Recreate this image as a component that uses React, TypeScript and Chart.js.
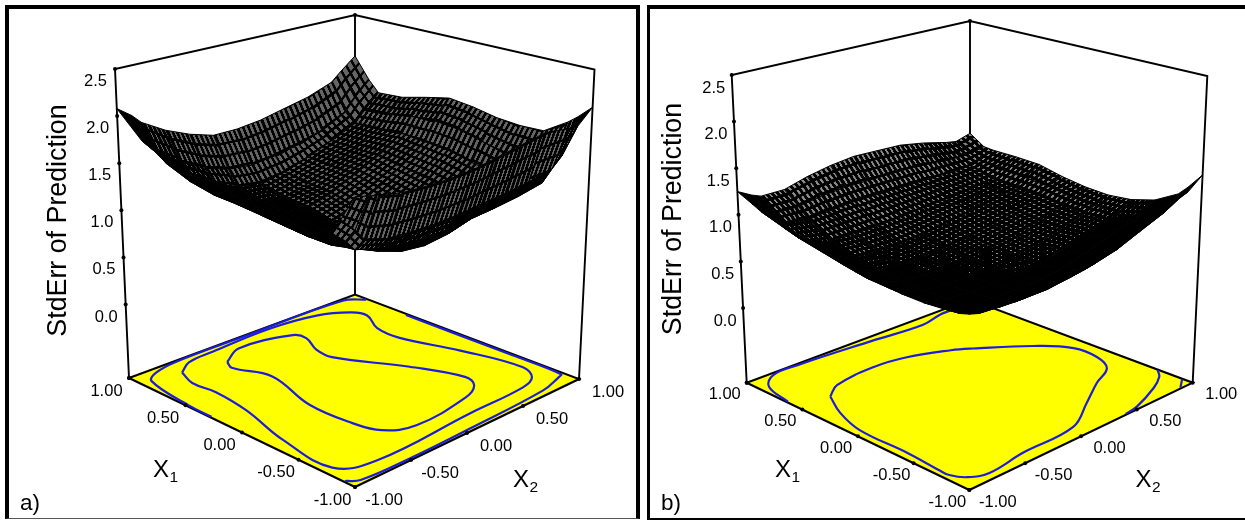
import React, { useEffect, useRef } from "react";
import { Chart, registerables } from "chart.js";

Chart.register(...registerables);

// ---------- data ----------
const zTicks = [0, 0.5, 1, 1.5, 2, 2.5];
const factorTicks = [-1, -0.5, 0, 0.5, 1];
const gridAxis = [-1, -0.88, -0.8, -0.6, -0.4, -0.2, 0, 0.2, 0.4, 0.6, 0.8, 0.88, 1];

// rows: X1 = gridAxis[i], columns: X2 = gridAxis[j]
const surfaceA = [
  [2.02, 1.98, 1.95, 1.9, 1.88, 1.87, 1.88, 1.92, 1.96, 2.0, 1.96, 1.95, 2.1],
  [1.75, 1.6, 1.48, 1.4, 1.38, 1.37, 1.38, 1.4, 1.42, 1.45, 1.5, 1.6, 1.96],
  [1.58, 1.46, 1.34, 1.27, 1.22, 1.2, 1.2, 1.22, 1.24, 1.27, 1.32, 1.5, 1.88],
  [1.5, 1.42, 1.32, 1.18, 1.07, 0.98, 0.95, 0.98, 1.05, 1.14, 1.26, 1.42, 1.72],
  [1.49, 1.4, 1.3, 1.13, 1.02, 0.92, 0.86, 0.88, 0.97, 1.1, 1.28, 1.45, 1.71],
  [1.53, 1.43, 1.32, 1.13, 1.01, 0.88, 0.8, 0.83, 0.95, 1.12, 1.32, 1.52, 1.73],
  [1.57, 1.46, 1.34, 1.15, 1.02, 0.89, 0.81, 0.85, 1.0, 1.17, 1.38, 1.58, 1.78],
  [1.61, 1.48, 1.36, 1.18, 1.05, 0.93, 0.86, 0.93, 1.06, 1.21, 1.4, 1.6, 1.81],
  [1.64, 1.5, 1.37, 1.2, 1.08, 0.97, 0.92, 1.0, 1.12, 1.25, 1.42, 1.58, 1.75],
  [1.71, 1.56, 1.42, 1.24, 1.1, 0.98, 0.94, 1.02, 1.13, 1.25, 1.39, 1.53, 1.68],
  [1.83, 1.66, 1.52, 1.33, 1.17, 1.05, 1.02, 1.06, 1.15, 1.26, 1.38, 1.5, 1.66],
  [1.93, 1.75, 1.62, 1.43, 1.29, 1.21, 1.18, 1.21, 1.26, 1.34, 1.48, 1.62, 1.78],
  [2.08, 1.97, 1.87, 1.72, 1.61, 1.53, 1.53, 1.56, 1.62, 1.68, 1.78, 1.88, 2.02],
];

const surfaceB = [
  [0.98, 0.9, 0.88, 0.88, 0.88, 0.9, 0.91, 0.98, 1.07, 1.18, 1.27, 1.31, 1.435],
  [0.9, 0.83, 0.78, 0.76, 0.75, 0.75, 0.78, 0.82, 0.88, 0.98, 1.08, 1.16, 1.26],
  [0.87, 0.78, 0.74, 0.7, 0.68, 0.68, 0.7, 0.73, 0.79, 0.88, 0.98, 1.04, 1.16],
  [0.85, 0.76, 0.7, 0.65, 0.63, 0.62, 0.63, 0.66, 0.72, 0.8, 0.88, 0.93, 1.02],
  [0.85, 0.75, 0.68, 0.62, 0.6, 0.6, 0.6, 0.63, 0.68, 0.75, 0.82, 0.87, 0.95],
  [0.87, 0.75, 0.68, 0.62, 0.6, 0.59, 0.59, 0.62, 0.67, 0.74, 0.81, 0.86, 0.925],
  [0.89, 0.76, 0.7, 0.62, 0.6, 0.6, 0.6, 0.63, 0.68, 0.74, 0.82, 0.88, 0.94],
  [0.94, 0.8, 0.72, 0.64, 0.62, 0.62, 0.63, 0.66, 0.71, 0.77, 0.85, 0.92, 0.98],
  [1.0, 0.85, 0.77, 0.68, 0.66, 0.66, 0.68, 0.72, 0.76, 0.8, 0.86, 0.94, 1.04],
  [1.05, 0.9, 0.83, 0.76, 0.76, 0.76, 0.78, 0.8, 0.82, 0.84, 0.88, 0.95, 1.05],
  [1.13, 0.98, 0.92, 0.9, 0.92, 0.94, 0.94, 0.94, 0.94, 0.94, 0.95, 0.98, 1.05],
  [1.18, 1.05, 1.0, 1.0, 1.04, 1.06, 1.06, 1.06, 1.06, 1.04, 1.02, 1.03, 1.06],
  [1.25, 1.17, 1.13, 1.13, 1.2, 1.25, 1.28, 1.27, 1.26, 1.21, 1.14, 1.12, 1.17],
];

// contour lines on the floor, as [X1, X2] pairs
const contoursA: number[][][] = [
  [
    [0.78, -0.35], [0.88, -0.15], [0.8, 0.25], [0.71, 0.28], [0.54, 0.2], [0.39, 0.19], [-0.06, 0.43], [-0.43, 0.56],
    [-0.555, 0.51], [-0.64, 0.35], [-0.69, -0.14], [-0.58, -0.34], [-0.38, -0.4], [-0.01, -0.41], [0.44, -0.29], [0.7, -0.39], [0.78, -0.35],
  ],
  [
    [0.85, -0.68], [0.93, -0.54], [0.95, -0.31], [0.97, 0.22], [0.92, 0.58], [0.81, 0.77], [0.7, 0.81], [0.51, 0.71], [0.3, 0.7],
    [-0.12, 0.82], [-0.6, 0.9], [-0.75, 0.83], [-0.81, 0.69], [-0.82, 0.21], [-0.85, -0.65], [-0.72, -0.92],
    [-0.24, -0.88], [0.2, -0.76], [0.51, -0.72], [0.7, -0.74], [0.85, -0.68],
  ],
  [
    [0.28, -0.99], [0.49, -0.985], [0.88, -0.92], [0.95, -0.81], [0.987, -0.6], [0.99, 0.0], [0.98, 0.87], [0.89, 0.99],
  ],
  [
    [0.53, 0.985], [-0.41, 0.985], [-0.86, 0.98], [-0.88, 0.94], [-0.94, 0.74], [-0.97, 0.07], [-0.98, -0.51], [-0.96, -0.91], [-0.9, -0.99],
  ],
];

const contoursB: number[][][] = [
  [
    [0.52, -0.73], [0.61, -0.58], [0.65, -0.21], [0.615, 0.05], [0.5, 0.33], [0.42, 0.45], [0.175, 0.74], [-0.04, 0.89], [-0.25, 0.89],
    [-0.42, 0.81], [-0.53, 0.61], [-0.69, 0.36], [-0.87, 0.06], [-0.89, -0.41], [-0.93, -0.75], [-0.87, -0.89], [-0.77, -0.95],
    [-0.68, -0.95], [-0.37, -0.93], [0.055, -0.93], [0.31, -0.85], [0.52, -0.73],
  ],
  [
    [0.64, -0.99], [0.87, -0.93], [0.975, -0.79], [0.985, -0.56], [0.945, 0.08], [0.91, 0.49], [0.955, 0.69], [0.96, 0.81], [0.99, 0.9],
  ],
  [
    [-0.69, 0.995], [-0.77, 0.93], [-0.86, 0.79], [-0.97, 0.53], [-0.99, 0.41],
  ],
  [
    [-0.91, 0.995], [-0.99, 0.9],
  ],
];

// ---------- panel layout and styling ----------
type Pt = [number, number];
interface Panel {
  left: number; width: number; surface: number[][]; contours: number[][][];
  floor: Pt[]; top: Pt[]; zFloor: number; lineW: number; cellColor: string;
  title: [number, number]; letter: string; letterPos: Pt;
  zOff: Pt; x1Off: Pt; x2Off: Pt; x1Title: Pt; x2Title: Pt;
}
const ZTOP = 2.5;
const MESH = 0.04;
const FONT = '"Liberation Sans", Arial, sans-serif';

const panels: Panel[] = [
  {
    left: 0, width: 643, surface: surfaceA, contours: contoursA,
    floor: [[355, 487], [579, 379], [129, 378], [355, 294.5]],
    top: [[355, 147], [594.5, 69.5], [115, 69], [355, 15]],
    zFloor: -0.78, lineW: 2.5, cellColor: "#666666",
    title: [65.5, 220.5], letter: "a)", letterPos: [20, 510],
    zOff: [-8, 12.5], x1Off: [-22.5, 13], x2Off: [29, 13],
    x1Title: [153, 477], x2Title: [513, 487],
  },
  {
    left: 643, width: 602, surface: surfaceB, contours: contoursB,
    floor: [[969.3, 490], [1192.7, 382.7], [746.7, 382.7], [970, 299.6]],
    top: [[969.3, 152], [1207.3, 76], [731.7, 75], [970, 21]],
    zFloor: -0.8, lineW: 2.9, cellColor: "#8a8a8a",
    title: [680.5, 219], letter: "b)", letterPos: [661, 510],
    zOff: [-6.5, 13], x1Off: [-22, 12], x2Off: [28.5, 12],
    x1Title: [775, 477], x2Title: [1135.5, 487],
  },
];

function bilinear(c: Pt[], a: number, b: number): Pt {
  const w = [(1 - a) * (1 - b), a * (1 - b), (1 - a) * b, a * b];
  return [
    c[0][0] * w[0] + c[1][0] * w[1] + c[2][0] * w[2] + c[3][0] * w[3],
    c[0][1] * w[0] + c[1][1] * w[1] + c[2][1] * w[2] + c[3][1] * w[3],
  ];
}

function project(p: Panel, x1: number, x2: number, z: number) {
  const a = (x2 + 1) / 2;
  const b = (x1 + 1) / 2;
  const t = (z - p.zFloor) / (ZTOP - p.zFloor);
  const f = bilinear(p.floor, a, b);
  const u = bilinear(p.top, a, b);
  return { x: f[0] + (u[0] - f[0]) * t, y: f[1] + (u[1] - f[1]) * t };
}

const TILE = 16;
const tileCache = new Map<string, HTMLCanvasElement>();
function tile(ku: number, kv: number, color: string) {
  const key = `${ku}|${kv}|${color}`;
  let c = tileCache.get(key);
  if (!c) {
    c = document.createElement("canvas");
    c.width = TILE;
    c.height = TILE;
    const g = c.getContext("2d")!;
    g.fillStyle = color;
    g.fillRect(0, 0, TILE, TILE);
    g.fillStyle = "#000";
    g.fillRect(0, 0, ku, TILE);
    g.fillRect(0, 0, TILE, kv);
    tileCache.set(key, c);
  }
  return c;
}

function quadFill(ctx: CanvasRenderingContext2D, p: Panel, q: { x: number; y: number }[], du: number, dv: number) {
  // q: corners (i,j), (i,j+1), (i+1,j+1), (i+1,j); u runs along X2, v along X1
  const nu = du / MESH;
  const nv = dv / MESH;
  const ux = ((q[1].x - q[0].x + q[2].x - q[3].x) / 2) / nu;
  const uy = ((q[1].y - q[0].y + q[2].y - q[3].y) / 2) / nu;
  const vx = ((q[3].x - q[0].x + q[2].x - q[1].x) / 2) / nv;
  const vy = ((q[3].y - q[0].y + q[2].y - q[1].y) / 2) / nv;
  const cross = Math.abs(ux * vy - uy * vx);
  if (cross < 0.5) return "#000";
  const hu = cross / Math.hypot(vx, vy);
  const hv = cross / Math.hypot(ux, uy);
  const ku = Math.min(TILE, Math.round((TILE * p.lineW) / hu));
  const kv = Math.min(TILE, Math.round((TILE * p.lineW) / hv));
  if (ku >= TILE - 1 || kv >= TILE - 1) return "#000";
  const pat = ctx.createPattern(tile(ku, kv, p.cellColor), "repeat")!;
  pat.setTransform(new DOMMatrix([ux / TILE, uy / TILE, vx / TILE, vy / TILE, q[0].x - p.left, q[0].y]));
  return pat;
}

function surfaceDatasets(ctx: CanvasRenderingContext2D, p: Panel) {
  const quads: { key: number; ds: any }[] = [];
  for (let i = 0; i < gridAxis.length - 1; i++) {
    for (let j = 0; j < gridAxis.length - 1; j++) {
      const q = [
        project(p, gridAxis[i], gridAxis[j], p.surface[i][j]),
        project(p, gridAxis[i], gridAxis[j + 1], p.surface[i][j + 1]),
        project(p, gridAxis[i + 1], gridAxis[j + 1], p.surface[i + 1][j + 1]),
        project(p, gridAxis[i + 1], gridAxis[j], p.surface[i + 1][j]),
      ];
      quads.push({
        key: gridAxis[i] + gridAxis[i + 1] + gridAxis[j] + gridAxis[j + 1],
        ds: {
          data: [...q, q[0]],
          showLine: true,
          fill: "shape",
          backgroundColor: quadFill(ctx, p, q, gridAxis[j + 1] - gridAxis[j], gridAxis[i + 1] - gridAxis[i]),
          borderColor: "#000",
          borderWidth: 1,
          pointRadius: 0,
          tension: 0,
        },
      });
    }
  }
  quads.sort((m, n) => m.key - n.key);
  return quads.map((m) => m.ds);
}

function buildDatasets(ctx: CanvasRenderingContext2D, p: Panel) {
  const edge = (pts: { x: number; y: number }[], w = 1.9) => ({
    data: pts, showLine: true, borderColor: "#000", borderWidth: w, pointRadius: 0, tension: 0, fill: false,
  });
  const corner = (x1: number, x2: number, z: number) => project(p, x1, x2, z);
  const zf = p.zFloor;
  const tickDots = [
    ...zTicks.map((z) => project(p, 1, -1, z)),
    ...factorTicks.map((v) => project(p, v, -1, zf)),
    ...factorTicks.map((v) => project(p, -1, v, zf)),
    project(p, 1, 1, ZTOP),
    project(p, 1, -1, zf),
  ];
  const contourSets = p.contours.map((c) => ({
    data: c.map(([x1, x2]) => project(p, x1, x2, zf)),
    showLine: true, borderColor: "#1c1cdc", borderWidth: 2.2, pointRadius: 0, tension: 0.4, fill: false,
  }));
  const floorOutline = [corner(1, -1, zf), corner(-1, -1, zf), corner(-1, 1, zf), corner(1, 1, zf), corner(1, -1, zf)];
  return [
    { data: tickDots, showLine: false, pointRadius: 2, pointBackgroundColor: "#000", pointBorderWidth: 0 },
    ...surfaceDatasets(ctx, p),
    ...contourSets,
    { ...edge(floorOutline, 2.1), fill: "shape", backgroundColor: "#ffff00" },
    edge([corner(1, -1, zf), corner(1, -1, ZTOP), corner(1, 1, ZTOP), corner(-1, 1, ZTOP), corner(-1, 1, zf)]),
    edge([corner(1, 1, ZTOP), corner(1, 1, zf)]),
  ];
}

function labelsPlugin(p: Panel) {
  return {
    id: "panelLabels",
    afterDatasetsDraw(chart: any) {
      const { ctx, scales } = chart;
      const px = (x: number) => scales.x.getPixelForValue(x);
      const py = (y: number) => scales.y.getPixelForValue(y);
      ctx.save();
      ctx.fillStyle = "#000";
      ctx.textBaseline = "middle";
      ctx.font = `16.5px ${FONT}`;
      ctx.textAlign = "right";
      zTicks.forEach((z) => {
        const q = project(p, 1, -1, z);
        ctx.fillText(z.toFixed(1), px(q.x + p.zOff[0]), py(q.y + p.zOff[1]));
      });
      ctx.textAlign = "center";
      factorTicks.forEach((v) => {
        const a = project(p, v, -1, p.zFloor);
        ctx.fillText(v.toFixed(2), px(a.x + p.x1Off[0]), py(a.y + p.x1Off[1]));
        const b = project(p, -1, v, p.zFloor);
        ctx.fillText(v.toFixed(2), px(b.x + p.x2Off[0]), py(b.y + p.x2Off[1]));
      });
      ctx.textBaseline = "alphabetic";
      ctx.textAlign = "left";
      const factor = (main: string, sub: string, pos: Pt) => {
        ctx.font = `24px ${FONT}`;
        ctx.fillText(main, px(pos[0]), py(pos[1]));
        const w = ctx.measureText(main).width;
        ctx.font = `15.5px ${FONT}`;
        ctx.fillText(sub, px(pos[0] + w + 0.5), py(pos[1] + 4.5));
      };
      factor("X", "1", p.x1Title);
      factor("X", "2", p.x2Title);
      ctx.font = `22.5px ${FONT}`;
      ctx.fillText(p.letter, px(p.letterPos[0]), py(p.letterPos[1]));
      ctx.translate(px(p.title[0]), py(p.title[1]));
      ctx.rotate(-Math.PI / 2);
      ctx.textAlign = "center";
      ctx.font = `26.8px ${FONT}`;
      ctx.fillText("StdErr of Prediction", 0, 0);
      ctx.restore();
    },
  };
}

function PanelChart({ panel }: { panel: Panel }) {
  const ref = useRef<HTMLCanvasElement | null>(null);
  useEffect(() => {
    const canvas = ref.current!;
    const ctx = canvas.getContext("2d")!;
    const chart = new Chart(ctx, {
      type: "scatter",
      data: { datasets: buildDatasets(ctx, panel) as any },
      options: {
        animation: false,
        responsive: false,
        devicePixelRatio: 1,
        events: [],
        layout: { padding: 0, autoPadding: false },
        plugins: { legend: { display: false }, tooltip: { enabled: false }, title: { display: false } },
        scales: {
          x: { type: "linear", min: panel.left, max: panel.left + panel.width, display: false },
          y: { type: "linear", min: 0, max: 520, reverse: true, display: false },
        },
      },
      plugins: [labelsPlugin(panel) as any],
    });
    return () => chart.destroy();
  }, [panel]);
  return (
    <canvas
      ref={ref}
      width={panel.width}
      height={520}
      style={{ position: "absolute", left: panel.left, top: 0, width: panel.width, height: 520 }}
    />
  );
}

export default function App() {
  return (
    <div style={{ position: "fixed", left: 0, top: 0, width: 1245, height: 520, background: "#fff", overflow: "hidden" }}>
      <PanelChart panel={panels[0]} />
      <PanelChart panel={panels[1]} />
      <div
        style={{
          position: "absolute", left: 5, top: 5, width: 635, height: 514, boxSizing: "border-box",
          borderLeft: "4px solid #000", borderTop: "4px solid #000", borderRight: "4px solid #000", borderBottom: "1.5px solid #555",
        }}
      />
      <div
        style={{
          position: "absolute", left: 647, top: 5, width: 620, height: 515, boxSizing: "border-box",
          borderLeft: "3px solid #000", borderTop: "4px solid #000", borderBottom: "2px solid #000",
        }}
      />
    </div>
  );
}
